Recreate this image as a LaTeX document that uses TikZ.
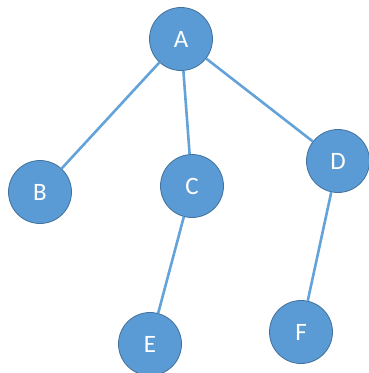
\documentclass[tikz,border=0pt]{standalone}
\usepackage{fontspec}
\setmainfont{Carlito}
\definecolor{nodeblue}{HTML}{5B9BD5}
\definecolor{rimblue}{HTML}{41719C}
\definecolor{edgeblue}{HTML}{64A2DA}
\tikzset{vertex/.style={circle, minimum size=63pt, inner sep=0pt, fill=nodeblue, draw=rimblue, line width=0.8pt, text=white, font=\fontsize{25}{29}\selectfont}}
\tikzset{branch/.style={draw=edgeblue, line width=2.6pt}}
\begin{document}
\begin{tikzpicture}[x=1pt, y=-1pt]
  \useasboundingbox (0,0) rectangle (368,373);
  \node (A) [vertex] at (181,39) {A};
  \node (B) [vertex] at (40,192) {B};
  \node (C) [vertex] at (192,186) {C};
  \node (D) [vertex] at (338,161) {D};
  \node (E) [vertex] at (150,344) {E};
  \node (F) [vertex] at (301,332) {F};
  \draw [branch] (A) -- (B);
  \draw [branch] (A) -- (C);
  \draw [branch] (A) -- (D);
  \draw [branch] (C) -- (E);
  \draw [branch] (D) -- (F);
\end{tikzpicture}
\end{document}
